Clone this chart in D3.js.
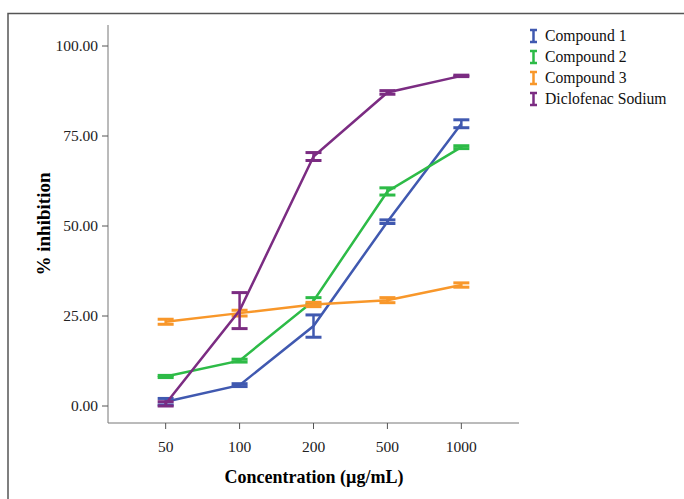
<!DOCTYPE html>
<html>
<head>
<meta charset="utf-8">
<script src="https://cdn.jsdelivr.net/npm/d3@7"></script>
<style>
  body { margin: 0; background: #fff; }
  text { font-family: "Liberation Serif", "Times New Roman", serif; }
</style>
</head>
<body>
<script>
// 数据
var concentrations = ["50", "100", "200", "500", "1000"];
var seriesNames = ["Compound 1", "Compound 2", "Compound 3", "Diclofenac Sodium"];
var seriesColors = ["#4059b0", "#2dbb47", "#f8972a", "#7b2c82"];
var compound1 = [1.2, 5.8, 22.2, 51.2, 78.4];
var compound1Err = [0.9, 0.4, 3.1, 0.5, 1.1];
var compound2 = [8.2, 12.6, 29.2, 59.6, 71.9];
var compound2Err = [0.3, 0.4, 0.9, 1.0, 0.4];
var compound3 = [23.4, 25.8, 28.2, 29.4, 33.6];
var compound3Err = [0.7, 0.8, 0.6, 0.7, 0.6];
var diclofenac = [0.6, 26.5, 69.3, 87.1, 91.7];
var diclofenacErr = [0.6, 5.0, 1.1, 0.5, 0.2];
var yTicks = [0, 25, 50, 75, 100];

var values = [compound1, compound2, compound3, diclofenac];
var errors = [compound1Err, compound2Err, compound3Err, diclofenacErr];

var w = 684, h = 499;
var svg = d3.select("body").append("svg").attr("width", w).attr("height", h);

// 外框
svg.append("path")
  .attr("d", "M8," + h + "V13.5H" + w)
  .attr("fill", "none")
  .attr("stroke", "#555")
  .attr("stroke-width", 1.5);

var xScale = d3.scalePoint().domain(concentrations).range([108, 519]).padding(0.78);
var yScale = d3.scaleLinear().domain([0, 100]).range([406, 46]);

// 坐标轴线
svg.append("line").attr("x1", 108).attr("x2", 108).attr("y1", 25).attr("y2", 423)
  .attr("stroke", "#777").attr("stroke-width", 1);
svg.append("line").attr("x1", 108).attr("x2", 519).attr("y1", 423).attr("y2", 423)
  .attr("stroke", "#777").attr("stroke-width", 1);

// y 轴刻度
var yAxis = svg.append("g");
yAxis.selectAll("line").data(yTicks).enter().append("line")
  .attr("x1", 102).attr("x2", 108)
  .attr("y1", function (d) { return yScale(d); })
  .attr("y2", function (d) { return yScale(d); })
  .attr("stroke", "#555");
yAxis.selectAll("text").data(yTicks).enter().append("text")
  .attr("x", 98)
  .attr("y", function (d) { return yScale(d); })
  .attr("dy", "0.35em")
  .attr("text-anchor", "end")
  .attr("font-size", 15.5)
  .attr("fill", "#222")
  .text(function (d) { return d3.format(".2f")(d); });

// x 轴刻度
var xAxis = svg.append("g");
xAxis.selectAll("line").data(concentrations).enter().append("line")
  .attr("x1", function (d) { return xScale(d); })
  .attr("x2", function (d) { return xScale(d); })
  .attr("y1", 423).attr("y2", 429)
  .attr("stroke", "#555");
xAxis.selectAll("text").data(concentrations).enter().append("text")
  .attr("x", function (d) { return xScale(d); })
  .attr("y", 452)
  .attr("text-anchor", "middle")
  .attr("font-size", 15.5)
  .attr("fill", "#222")
  .text(function (d) { return d; });

// 轴标题
svg.append("text")
  .attr("x", 314).attr("y", 483)
  .attr("text-anchor", "middle")
  .attr("font-size", 18).attr("font-weight", "bold")
  .text("Concentration (µg/mL)");
svg.append("text")
  .attr("transform", "translate(50,224) rotate(-90)")
  .attr("text-anchor", "middle")
  .attr("font-size", 19).attr("font-weight", "bold")
  .text("% inhibition");

// 折线和误差线
var line = d3.line()
  .x(function (d, i) { return xScale(concentrations[i]); })
  .y(function (d) { return yScale(d); });

var capW = 8;
values.forEach(function (vals, s) {
  var color = seriesColors[s];
  var g = svg.append("g");
  g.append("path")
    .attr("d", line(vals))
    .attr("fill", "none")
    .attr("stroke", color)
    .attr("stroke-width", 2.5);
  vals.forEach(function (v, i) {
    var x = xScale(concentrations[i]);
    var y0 = yScale(v - errors[s][i]);
    var y1 = yScale(v + errors[s][i]);
    g.append("line").attr("x1", x).attr("x2", x).attr("y1", y0).attr("y2", y1)
      .attr("stroke", color).attr("stroke-width", 2.5);
    [y0, y1].forEach(function (yy) {
      g.append("line").attr("x1", x - capW).attr("x2", x + capW).attr("y1", yy).attr("y2", yy)
        .attr("stroke", color).attr("stroke-width", 3);
    });
  });
});

// 图例
var legend = svg.append("g");
seriesNames.forEach(function (name, i) {
  var y = 36 + i * 21;
  var color = seriesColors[i];
  legend.append("path")
    .attr("d", "M530," + (y - 6) + "H537M533.5," + (y - 6) + "V" + (y + 6) + "M530," + (y + 6) + "H537")
    .attr("stroke", color).attr("stroke-width", 2.5).attr("fill", "none");
  legend.append("text")
    .attr("x", 545).attr("y", y)
    .attr("dy", "0.35em")
    .attr("font-size", 15.7)
    .attr("fill", "#111")
    .text(name);
});
</script>
</body>
</html>
